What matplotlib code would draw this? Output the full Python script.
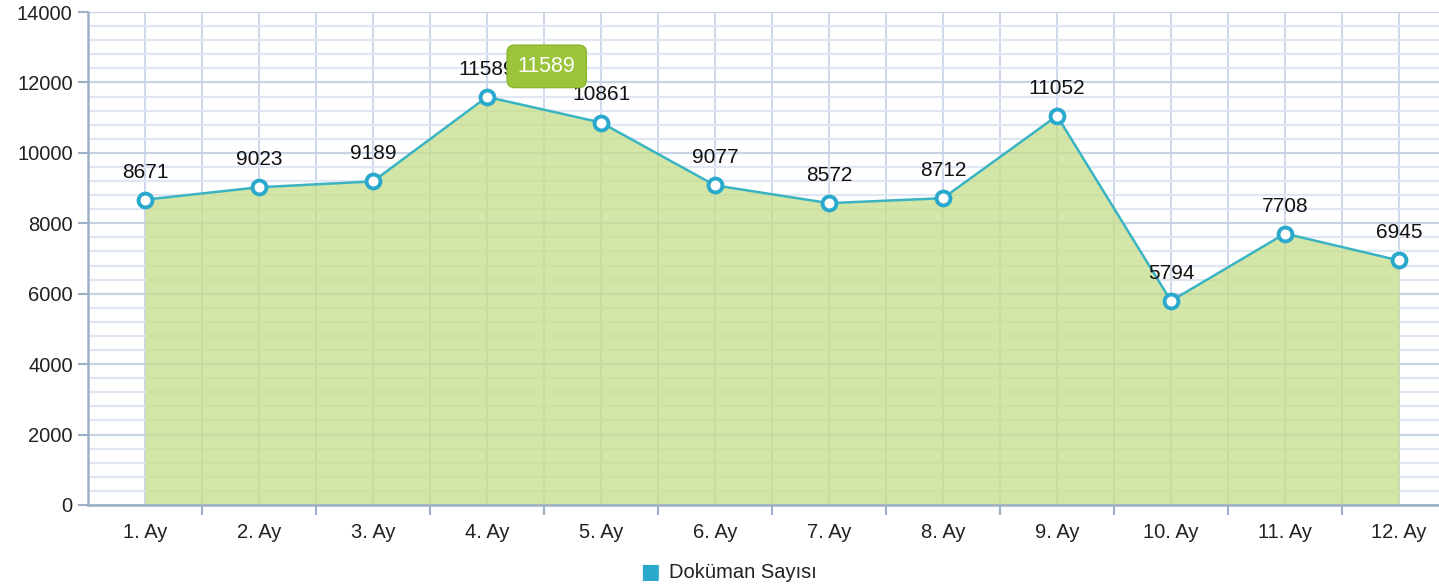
import numpy as np
import matplotlib.pyplot as plt
from matplotlib.ticker import MultipleLocator, FixedLocator

plt.rcParams['font.family'] = ['Liberation Sans', 'DejaVu Sans']

# data
months = ['1. Ay', '2. Ay', '3. Ay', '4. Ay', '5. Ay', '6. Ay',
          '7. Ay', '8. Ay', '9. Ay', '10. Ay', '11. Ay', '12. Ay']
doc_counts = [8671, 9023, 9189, 11589, 10861, 9077, 8572, 8712, 11052, 5794, 7708, 6945]
series_name = 'Doküman Sayısı'
tooltip_idx = 3  # hovered point

W, H = 1439, 587
fig = plt.figure(figsize=(W / 100, H / 100), dpi=100)
ax = fig.add_axes([88 / W, 1 - 505 / H, (W - 88) / W, (505 - 12) / H])

x = np.arange(len(months))
cat_w = 114.0  # pixels per category
ax.set_xlim(-0.5, -0.5 + (W - 88) / cat_w)
ax.set_ylim(0, 14000)

# grid
ax.yaxis.set_major_locator(MultipleLocator(2000))
ax.yaxis.set_minor_locator(MultipleLocator(400))
ax.grid(which='minor', axis='y', color='#e1e7f2', lw=1.6, zorder=0)
ax.grid(which='major', axis='y', color='#c9d3e6', lw=1.6, zorder=0)
for xv in np.arange(-0.5, len(months) + 0.5, 0.5):
    ax.axvline(xv, color='#cfd8ea', lw=1.4, zorder=0)

ax.set_xticks(x)
ax.set_xticklabels(months)
ax.xaxis.set_minor_locator(FixedLocator(np.arange(0.5, len(months), 1.0)))
ax.tick_params(axis='x', which='major', length=0, pad=13, labelsize=14.5, colors='#222222')
ax.tick_params(axis='x', which='minor', length=7, width=1.5, color='#9eb0c8', direction='out')
ax.tick_params(axis='y', which='major', length=7, width=1.5, color='#9eb0c8', labelsize=14.5,
               labelcolor='#222222', pad=4)
ax.tick_params(axis='y', which='minor', length=0)

for s in ['top', 'right']:
    ax.spines[s].set_visible(False)
for s in ['left', 'bottom']:
    ax.spines[s].set_color('#9eb0c8')
    ax.spines[s].set_linewidth(1.8)

# area + line + markers
ax.fill_between(x, doc_counts, 0, color='#c6de8a', alpha=0.75, lw=0, zorder=2)
ax.plot(x, doc_counts, color='#3ab4c2', lw=1.8, zorder=3)
ax.plot(x, doc_counts, 'o', ms=10, mfc='white', mec='#2aa9cc', mew=2.8, zorder=4,
        clip_on=False)

# value labels
for xi, v in zip(x, doc_counts):
    ax.annotate(str(v), (xi, v), xytext=(0, 13), textcoords='offset points',
                ha='center', va='bottom', fontsize=15, color='#111111', zorder=5)

# tooltip
ax.annotate(str(doc_counts[tooltip_idx]), (x[tooltip_idx], doc_counts[tooltip_idx]),
            xytext=(43, 22), textcoords='offset points', ha='center', va='center',
            fontsize=15.5, color='white', zorder=7,
            bbox=dict(boxstyle='round,pad=0.5,rounding_size=0.35', fc='#9bc43a',
                      ec='#8ab82e', lw=1))

# legend
fig.text(650 / W, 1 - 572 / H, '■', color='#2aa9cc', fontsize=15, ha='center', va='center',
         family='DejaVu Sans')
fig.text(669 / W, 1 - 572 / H, series_name, color='#222222', fontsize=14.5, ha='left',
         va='center')

fig.savefig('out.png', dpi=100)
